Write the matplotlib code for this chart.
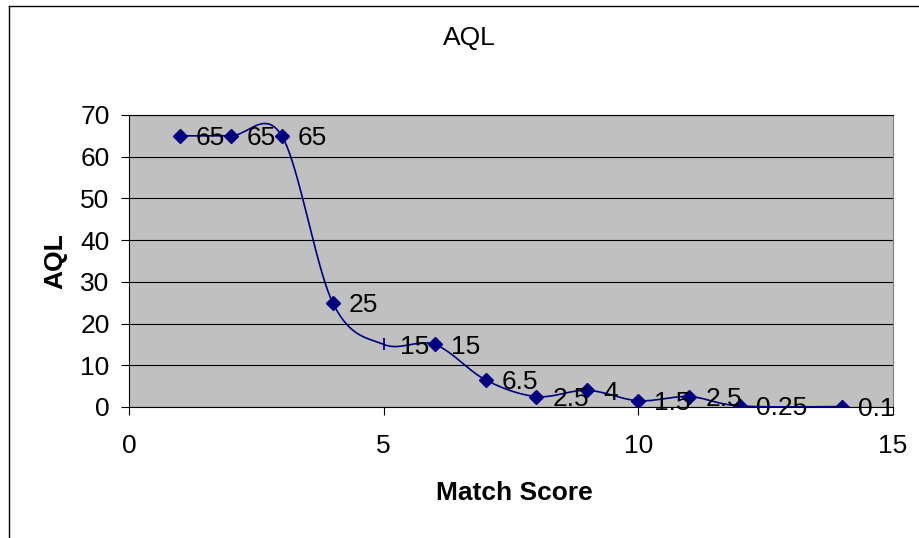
import numpy as np
import matplotlib
matplotlib.use("Agg")
import matplotlib.pyplot as plt
from matplotlib.lines import Line2D
from matplotlib.transforms import Bbox, TransformedBbox

# AQL by match score
match_score = [1, 2, 3, 4, 5, 6, 7, 8, 9, 10, 11, 12, 14]
aql = [65, 65, 65, 25, 15, 15, 6.5, 2.5, 4, 1.5, 2.5, 0.25, 0.1]
point_labels = ["65", "65", "65", "25", "15", "15", "6.5", "2.5", "4", "1.5",
                "2.5", "0.25", "0.1"]
x_ticks = [0, 5, 10, 15]
y_ticks = [0, 10, 20, 30, 40, 50, 60, 70]

plt.rcParams["font.family"] = ["Liberation Sans", "DejaVu Sans"]
FS = 19

W, H = 920, 538
fig = plt.figure(figsize=(W / 100, H / 100), dpi=100)
fig.patch.set_facecolor("white")

left, right, top, bottom = 129, 893, 115, 407
ax = fig.add_axes([left / W, 1 - bottom / H, (right - left) / W, (bottom - top) / H])
ax.set_facecolor("#C0C0C0")


def smooth_curve(xs, ys, n=40):
    """Bezier smoothing through the points (1/6 tangent rule)."""
    pts = np.column_stack([xs, ys]).astype(float)
    padded = np.vstack([pts[0], pts, pts[-1]])
    t = np.linspace(0, 1, n)[:, None]
    segs = []
    for i in range(len(pts) - 1):
        p0, p1, p2, p3 = padded[i], padded[i + 1], padded[i + 2], padded[i + 3]
        c1 = p1 + (p2 - p0) / 6.0
        c2 = p2 - (p3 - p1) / 6.0
        seg = ((1 - t) ** 3) * p1 + 3 * ((1 - t) ** 2) * t * c1 \
            + 3 * (1 - t) * t ** 2 * c2 + t ** 3 * p2
        segs.append(seg if i == 0 else seg[1:])
    return np.vstack(segs)


navy = "#000080"
curve = smooth_curve(match_score, aql)
ax.plot(curve[:, 0], curve[:, 1], color=navy, lw=1.2, zorder=3)

xs = np.array(match_score, dtype=float)
ys = np.array(aql, dtype=float)
tick_pt = xs == 5
ax.plot(xs[~tick_pt], ys[~tick_pt], linestyle="none", marker="D", markersize=6.8,
        color=navy, markeredgecolor=navy, markeredgewidth=1, zorder=4)
ax.plot(xs[tick_pt], ys[tick_pt], linestyle="none", marker="|", markersize=9,
        color=navy, markeredgewidth=1.3, zorder=4)

clip = TransformedBbox(Bbox([[0, -0.5], [1, 1.5]]), ax.transAxes)
for x, y, s in zip(match_score, aql, point_labels):
    ann = ax.annotate(s, (x, y), xytext=(11.5, 0), textcoords="offset points",
                      ha="left", va="center_baseline", fontsize=FS,
                      color="black", annotation_clip=False, zorder=5)
    ann.set_clip_box(clip)
    ann.set_clip_on(True)

ax.set_xlim(0, 15)
ax.set_ylim(0, 70)
ax.set_xticks(x_ticks)
ax.set_yticks(y_ticks)
ax.set_xticklabels([str(v) for v in x_ticks])
ax.set_yticklabels([str(v) for v in y_ticks])
ax.tick_params(axis="both", direction="out", length=5.5, width=0.8,
               color="black", labelsize=FS)
ax.tick_params(axis="y", pad=8.5)
ax.tick_params(axis="x", pad=14)
ax.yaxis.grid(True, color="black", lw=0.8)
ax.set_axisbelow(True)
for side in ["left", "bottom", "top"]:
    ax.spines[side].set_color("black")
    ax.spines[side].set_linewidth(0.8)
ax.spines["right"].set_color("#808080")
ax.spines["right"].set_linewidth(0.8)

fig.text(469 / W, 1 - 45 / H, "AQL", ha="center", va="baseline", fontsize=FS)
fig.text(62 / W, 1 - 261.5 / H, "AQL", ha="center", va="baseline", rotation=90,
         rotation_mode="anchor", fontsize=FS, fontweight="bold")
fig.text(514 / W, 1 - 500 / H, "Match Score", ha="center", va="baseline",
         fontsize=FS, fontweight="bold")

# chart frame
fx, fy = 9.5 / W, 1 - 5.5 / H
fig.add_artist(Line2D([fx, fx], [0, fy], transform=fig.transFigure,
                      color="black", lw=1))
fig.add_artist(Line2D([fx, 1], [fy, fy], transform=fig.transFigure,
                      color="black", lw=1))

fig.savefig("out.png", dpi=100)
